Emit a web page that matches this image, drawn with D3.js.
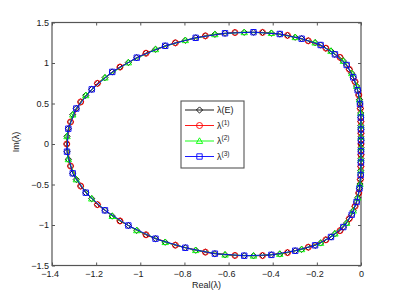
<!DOCTYPE html>
<html><head><meta charset="utf-8">
<script src="https://cdn.jsdelivr.net/npm/d3@7"></script>
<style>html,body{margin:0;padding:0;background:#fff}</style>
</head><body><svg id="c" width="399" height="298"></svg>
<script>
// ---- data ----
const xTicks = [-1.4,-1.2,-1,-0.8,-0.6,-0.4,-0.2,0];
const xTickLabels = ["−1.4","−1.2","−1","−0.8","−0.6","−0.4","−0.2","0"];
const yTicks = [-1.5,-1,-0.5,0,0.5,1,1.5];
const yTickLabels = ["−1.5","−1","−0.5","0","0.5","1","1.5"];
const xLabel = "Real(λ)";
const yLabel = "Im(λ)";

// λ^(1)
const lam1Re = [-1.333,-1.316,-1.270,-1.194,-1.092,-0.974,-0.841,-0.705,-0.571,-0.446,-0.333,-0.239,-0.159,-0.095,-0.053,-0.027,-0.010,-0.0027,-0.0005,-0.0001,0,
  -0.0001,-0.0005,-0.0027,-0.010,-0.027,-0.053,-0.095,-0.159,-0.239,-0.333,-0.446,-0.571,-0.705,-0.841,-0.974,-1.092,-1.194,-1.270,-1.316];
const lam1Im = [0,0.272,0.519,0.749,0.950,1.121,1.249,1.335,1.376,1.377,1.341,1.274,1.183,1.070,0.922,0.769,0.605,0.438,0.277,0.133,0,
  -0.133,-0.277,-0.438,-0.605,-0.769,-0.922,-1.070,-1.183,-1.274,-1.341,-1.377,-1.376,-1.335,-1.249,-1.121,-0.950,-0.749,-0.519,-0.272];
// λ^(2)
const lam2Re = [-1.332,-1.306,-1.247,-1.160,-1.054,-0.931,-0.796,-0.662,-0.529,-0.406,-0.298,-0.208,-0.136,-0.080,-0.042,-0.020,-0.007,-0.0014,-0.0003,-0.0001,
  0,-0.0002,-0.0008,-0.0045,-0.015,-0.035,-0.065,-0.118,-0.183,-0.269,-0.368,-0.487,-0.616,-0.749,-0.887,-1.016,-1.127,-1.220,-1.290,-1.326];
const lam2Im = [0.095,0.362,0.601,0.819,1.006,1.169,1.281,1.354,1.379,1.369,1.318,1.251,1.148,1.025,0.873,0.716,0.549,0.383,0.228,0.088,
  -0.044,-0.180,-0.327,-0.494,-0.663,-0.823,-0.975,-1.107,-1.222,-1.300,-1.358,-1.380,-1.367,-1.311,-1.212,-1.066,-0.890,-0.675,-0.438,-0.189];
// λ^(3)
const lam3Re = [-1.326,-1.290,-1.220,-1.127,-1.016,-0.887,-0.749,-0.616,-0.487,-0.368,-0.269,-0.183,-0.118,-0.065,-0.035,-0.015,-0.0045,-0.0008,-0.0002,0,
  -0.0001,-0.0003,-0.0014,-0.007,-0.020,-0.042,-0.080,-0.136,-0.208,-0.298,-0.406,-0.529,-0.662,-0.796,-0.931,-1.054,-1.160,-1.247,-1.306,-1.332];
const lam3Im = [0.189,0.438,0.675,0.890,1.066,1.212,1.311,1.367,1.380,1.358,1.300,1.222,1.107,0.975,0.823,0.663,0.494,0.327,0.180,0.044,
  -0.088,-0.228,-0.383,-0.549,-0.716,-0.873,-1.025,-1.148,-1.251,-1.318,-1.369,-1.379,-1.354,-1.281,-1.169,-1.006,-0.819,-0.601,-0.362,-0.095];

// λ(E) is the union of the three spectra, ordered along the curve
const parts = [[lam1Re,lam1Im],[lam2Re,lam2Im],[lam3Re,lam3Im]];
const lamERe = [], lamEIm = [];
const nE = lam1Re.length + lam2Re.length + lam3Re.length;
for (let i = 0; i < nE; i++) {
  const p = parts[i % 3], j = Math.floor(i / 3);
  lamERe.push(p[0][j]); lamEIm.push(p[1][j]);
}

// ---- layout ----
const L = 52, R = 361, T = 22.5, B = 265.5;
const FONT = "'Liberation Sans', Arial, Helvetica, sans-serif";
const AX = "#555";
const svg = d3.select("#c");
svg.append("rect").attr("width",399).attr("height",298).attr("fill","#fff");

const x = d3.scaleLinear().domain([-1.4, 0]).range([L, R]);
const y = d3.scaleLinear().domain([-1.5, 1.5]).range([B, T]);

function styleAxis(g){
  g.select(".domain").remove();
  g.selectAll(".tick line").attr("stroke", AX).attr("stroke-width", 1);
  g.selectAll(".tick text").attr("fill", "#1a1a1a").style("font-family", FONT).style("font-size", "9px");
}
const gx = svg.append("g").attr("transform", `translate(0,${B})`)
  .call(d3.axisBottom(x).tickValues(xTicks).tickFormat((d,i)=>xTickLabels[i]).tickSizeInner(-3).tickSizeOuter(0).tickPadding(5));
styleAxis(gx);
gx.selectAll(".tick text").attr("dx", (d)=> d < 0 ? -2.4 : 0);
const gxt = svg.append("g").attr("transform", `translate(0,${T})`)
  .call(d3.axisTop(x).tickValues(xTicks).tickFormat("").tickSizeInner(-3).tickSizeOuter(0));
styleAxis(gxt);
const gy = svg.append("g").attr("transform", `translate(${L},0)`)
  .call(d3.axisLeft(y).tickValues(yTicks).tickFormat((d,i)=>yTickLabels[i]).tickSizeInner(-3).tickSizeOuter(0).tickPadding(3));
styleAxis(gy);
const gyr = svg.append("g").attr("transform", `translate(${R},0)`)
  .call(d3.axisRight(y).tickValues(yTicks).tickFormat("").tickSizeInner(-3).tickSizeOuter(0));
styleAxis(gyr);
svg.append("rect").attr("x", L).attr("y", T).attr("width", R-L).attr("height", B-T)
  .attr("fill","none").attr("stroke", AX).attr("stroke-width", 1.2);

// axis labels
svg.append("text").attr("x", (L+R)/2).attr("y", 288).attr("text-anchor","middle")
  .style("font-family", FONT).style("font-size","9px").attr("fill","#1a1a1a").text(xLabel);
svg.append("text").attr("transform", `translate(19,${(T+B)/2 - 2}) rotate(-90)`).attr("text-anchor","middle")
  .style("font-family", FONT).style("font-size","9px").attr("fill","#1a1a1a").text(yLabel);

// markers
function markerPath(type, cx, cy){
  const p = d3.path();
  if (type === "diamond") { const s=3.1; p.moveTo(cx,cy-s); p.lineTo(cx+s,cy); p.lineTo(cx,cy+s); p.lineTo(cx-s,cy); p.closePath(); }
  else if (type === "circle") { p.moveTo(cx+3,cy); p.arc(cx,cy,3,0,2*Math.PI); p.closePath(); }
  else if (type === "triangle") { const s=3.2; p.moveTo(cx,cy-s); p.lineTo(cx+s,cy+s*0.75); p.lineTo(cx-s,cy+s*0.75); p.closePath(); }
  else if (type === "square") { const s=2.7; p.rect(cx-s,cy-s,2*s,2*s); }
  return p.toString();
}

const series = [
  {re: lamERe, im: lamEIm, color: "#000000", marker: "diamond"},
  {re: lam1Re, im: lam1Im, color: "#ff0000", marker: "circle"},
  {re: lam2Re, im: lam2Im, color: "#00ff00", marker: "triangle"},
  {re: lam3Re, im: lam3Im, color: "#0000ff", marker: "square"}
];
const line = d3.line().x(d=>x(d[0])).y(d=>y(d[1])).curve(d3.curveLinearClosed);
const plot = svg.append("g");
series.forEach(s => {
  const pts = s.re.map((v,i)=>[v, s.im[i]]);
  const g = plot.append("g");
  g.append("path").attr("d", line(pts)).attr("fill","none").attr("stroke", s.color).attr("stroke-width", 0.9);
  g.selectAll("path.m").data(pts).enter().append("path").attr("class","m")
    .attr("d", d => markerPath(s.marker, x(d[0]), y(d[1])))
    .attr("fill","none").attr("stroke", s.color).attr("stroke-width", 0.9);
});

// legend
const lg = svg.append("g");
lg.append("rect").attr("x",181).attr("y",101).attr("width",63).attr("height",67)
  .attr("fill","#fff").attr("stroke", AX).attr("stroke-width",1.1);
const legendY = [110, 125.5, 141, 156.5];
const supers = [null, "(1)", "(2)", "(3)"];
series.forEach((s,i) => {
  const yy = legendY[i];
  lg.append("line").attr("x1",185).attr("x2",214).attr("y1",yy).attr("y2",yy).attr("stroke", s.color).attr("stroke-width",0.9);
  lg.append("path").attr("d", markerPath(s.marker, 199.5, yy)).attr("fill","none").attr("stroke", s.color).attr("stroke-width",0.9);
  const t = lg.append("text").attr("x",217).attr("y",yy+3.3).style("font-family",FONT).style("font-size","9px").attr("fill","#1a1a1a");
  if (i === 0) t.text("λ(E)");
  else {
    t.append("tspan").text("λ");
    t.append("tspan").attr("dy",-4).style("font-size","6.5px").text(supers[i]);
  }
});
</script>
</body></html>
